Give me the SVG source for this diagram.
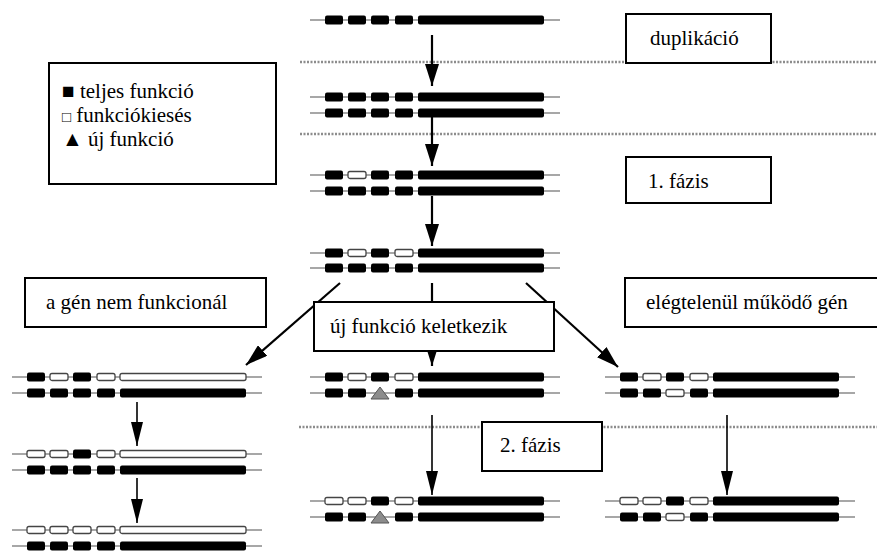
<svg xmlns="http://www.w3.org/2000/svg" width="877" height="551" viewBox="0 0 877 551">
<defs>
<marker id="ah" viewBox="0 0 22 14" refX="22" refY="7" markerWidth="22" markerHeight="14" markerUnits="userSpaceOnUse" orient="auto">
<path d="M0,0 L22,7 L0,14 z" fill="#000"/>
</marker>
<marker id="ah2" viewBox="0 0 24 12" refX="24" refY="6" markerWidth="24" markerHeight="12" markerUnits="userSpaceOnUse" orient="auto">
<path d="M0,0 L24,6 L0,12 z" fill="#000"/>
</marker>
<line id="bb" x1="0" y1="0" x2="250" y2="0" stroke="#8a8a8a" stroke-width="1.6"/>
<rect id="F" x="0" y="-4.5" width="18" height="9" rx="2" fill="#000"/>
<rect id="E" x="0" y="-3.5" width="18" height="7" rx="2" fill="#fff" stroke="#444" stroke-width="1.3"/>
<rect id="FL" x="0" y="-4.5" width="126" height="9" rx="2" fill="#000"/>
<rect id="EL" x="0" y="-3.5" width="126" height="7" rx="2" fill="#fff" stroke="#444" stroke-width="1.3"/>
<polygon id="T" points="0,6 18,6 9,-6" fill="#8c8c8c" stroke="#555" stroke-width="1"/>
</defs>
<rect width="877" height="551" fill="#fff"/>

<g id="separators" stroke="#8c8c8c" stroke-width="2.5" stroke-dasharray="2 1.5" fill="none">
<line x1="300" y1="62" x2="877" y2="62"/>
<line x1="300" y1="134" x2="877" y2="134"/>
<line x1="299" y1="427" x2="877" y2="427"/>
</g>

<g id="connectors" stroke="#000" fill="none">
<g stroke-width="2.2" marker-end="url(#ah)">
<line x1="432" y1="35" x2="432" y2="86"/>
<line x1="432" y1="117" x2="432" y2="166"/>
<line x1="432" y1="196" x2="432" y2="246"/>
<line x1="340" y1="283" x2="246" y2="365"/>
<line x1="432" y1="283" x2="432" y2="366"/>
<line x1="526" y1="283" x2="618" y2="367"/>
</g>
<g stroke-width="1.6" marker-end="url(#ah2)">
<line x1="137" y1="402" x2="137" y2="446"/>
<line x1="137" y1="478" x2="137" y2="523"/>
<line x1="432" y1="415" x2="432" y2="495"/>
<line x1="727" y1="415" x2="727" y2="495"/>
</g>
</g>

<g id="gene-original" transform="translate(310,20)">
<use href="#bb"/><use href="#F" x="15"/><use href="#F" x="38"/><use href="#F" x="61"/><use href="#F" x="85"/><use href="#FL" x="108"/>
</g>

<g id="gene-duplicated">
<g transform="translate(310,97)"><use href="#bb"/><use href="#F" x="15"/><use href="#F" x="38"/><use href="#F" x="61"/><use href="#F" x="85"/><use href="#FL" x="108"/></g>
<g transform="translate(310,113)"><use href="#bb"/><use href="#F" x="15"/><use href="#F" x="38"/><use href="#F" x="61"/><use href="#F" x="85"/><use href="#FL" x="108"/></g>
</g>

<g id="gene-phase1a">
<g transform="translate(310,175)"><use href="#bb"/><use href="#F" x="15"/><use href="#E" x="38"/><use href="#F" x="61"/><use href="#F" x="85"/><use href="#FL" x="108"/></g>
<g transform="translate(310,191)"><use href="#bb"/><use href="#F" x="15"/><use href="#F" x="38"/><use href="#F" x="61"/><use href="#F" x="85"/><use href="#FL" x="108"/></g>
</g>

<g id="gene-phase1b">
<g transform="translate(310,253)"><use href="#bb"/><use href="#F" x="15"/><use href="#E" x="38"/><use href="#F" x="61"/><use href="#E" x="85"/><use href="#FL" x="108"/></g>
<g transform="translate(310,268)"><use href="#bb"/><use href="#F" x="15"/><use href="#F" x="38"/><use href="#F" x="61"/><use href="#F" x="85"/><use href="#FL" x="108"/></g>
</g>

<g id="gene-left-1">
<g transform="translate(12,377)"><use href="#bb"/><use href="#F" x="15"/><use href="#E" x="38"/><use href="#F" x="61"/><use href="#E" x="85"/><use href="#EL" x="108"/></g>
<g transform="translate(12,393)"><use href="#bb"/><use href="#F" x="15"/><use href="#F" x="38"/><use href="#F" x="61"/><use href="#F" x="85"/><use href="#FL" x="108"/></g>
</g>

<g id="gene-left-2">
<g transform="translate(12,454)"><use href="#bb"/><use href="#E" x="15"/><use href="#E" x="38"/><use href="#F" x="61"/><use href="#E" x="85"/><use href="#EL" x="108"/></g>
<g transform="translate(12,470)"><use href="#bb"/><use href="#F" x="15"/><use href="#F" x="38"/><use href="#F" x="61"/><use href="#F" x="85"/><use href="#FL" x="108"/></g>
</g>

<g id="gene-left-3">
<g transform="translate(12,530)"><use href="#bb"/><use href="#E" x="15"/><use href="#E" x="38"/><use href="#E" x="61"/><use href="#E" x="85"/><use href="#EL" x="108"/></g>
<g transform="translate(12,546)"><use href="#bb"/><use href="#F" x="15"/><use href="#F" x="38"/><use href="#F" x="61"/><use href="#F" x="85"/><use href="#FL" x="108"/></g>
</g>

<g id="gene-middle-1">
<g transform="translate(310,377)"><use href="#bb"/><use href="#F" x="15"/><use href="#E" x="38"/><use href="#F" x="61"/><use href="#E" x="85"/><use href="#FL" x="108"/></g>
<g transform="translate(310,393)"><use href="#bb"/><use href="#F" x="15"/><use href="#F" x="38"/><use href="#T" x="61"/><use href="#F" x="85"/><use href="#FL" x="108"/></g>
</g>

<g id="gene-middle-2">
<g transform="translate(310,501)"><use href="#bb"/><use href="#E" x="15"/><use href="#E" x="38"/><use href="#F" x="61"/><use href="#E" x="85"/><use href="#FL" x="108"/></g>
<g transform="translate(310,517)"><use href="#bb"/><use href="#F" x="15"/><use href="#F" x="38"/><use href="#T" x="61"/><use href="#F" x="85"/><use href="#FL" x="108"/></g>
</g>

<g id="gene-right-1">
<g transform="translate(605,377)"><use href="#bb"/><use href="#F" x="15"/><use href="#E" x="38"/><use href="#F" x="61"/><use href="#E" x="85"/><use href="#FL" x="108"/></g>
<g transform="translate(605,393)"><use href="#bb"/><use href="#F" x="15"/><use href="#F" x="38"/><use href="#E" x="61"/><use href="#F" x="85"/><use href="#FL" x="108"/></g>
</g>

<g id="gene-right-2">
<g transform="translate(605,501)"><use href="#bb"/><use href="#E" x="15"/><use href="#E" x="38"/><use href="#F" x="61"/><use href="#E" x="85"/><use href="#FL" x="108"/></g>
<g transform="translate(605,517)"><use href="#bb"/><use href="#F" x="15"/><use href="#F" x="38"/><use href="#E" x="61"/><use href="#F" x="85"/><use href="#FL" x="108"/></g>
</g>

<g id="legend">
<rect x="49" y="63" width="227" height="121" fill="#fff" stroke="#000" stroke-width="2"/>
<text x="62" y="98" font-family="Liberation Serif" font-size="21">■ teljes funkció</text>
<text x="62" y="122" font-family="Liberation Serif" font-size="21"><tspan font-size="15">□</tspan> funkciókiesés</text>
<text x="62" y="146" font-family="Liberation Serif" font-size="21">▲ új funkció</text>
</g>

<g id="label-duplikacio">
<rect x="626" y="14" width="145" height="49" fill="#fff" stroke="#000" stroke-width="2"/>
<text x="650" y="45" font-family="Liberation Serif" font-size="21">duplikáció</text>
</g>

<g id="label-fazis1">
<rect x="626" y="157" width="145" height="46" fill="#fff" stroke="#000" stroke-width="2"/>
<text x="648" y="188" font-family="Liberation Serif" font-size="21">1. fázis</text>
</g>

<g id="label-nem-funkcional">
<rect x="25" y="278" width="241" height="49" fill="#fff" stroke="#000" stroke-width="2"/>
<text x="46" y="309" font-family="Liberation Serif" font-size="21">a gén nem funkcionál</text>
</g>

<g id="label-elegtelenul">
<rect x="625" y="278" width="260" height="49" fill="#fff" stroke="#000" stroke-width="2"/>
<text x="646" y="309" font-family="Liberation Serif" font-size="21">elégtelenül működő gén</text>
</g>

<g id="label-uj-funkcio">
<rect x="314" y="302" width="240" height="49" fill="#fff" stroke="#000" stroke-width="2"/>
<text x="330" y="333" font-family="Liberation Serif" font-size="21">új funkció keletkezik</text>
</g>

<g id="label-fazis2">
<rect x="482" y="422" width="120" height="49" fill="#fff" stroke="#000" stroke-width="2"/>
<text x="500" y="452" font-family="Liberation Serif" font-size="21">2. fázis</text>
</g>
</svg>
